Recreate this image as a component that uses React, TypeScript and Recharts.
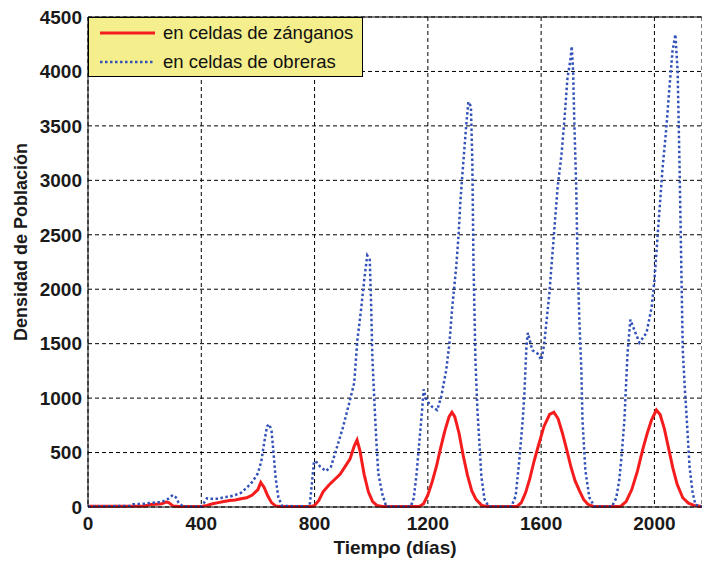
import { LineChart, Line, XAxis, YAxis, CartesianGrid, ReferenceLine, Legend } from 'recharts';

// ── Data ──

const seriesNames = ['en celdas de zánganos', 'en celdas de obreras'];

const xTicks = [0, 400, 800, 1200, 1600, 2000];
const yTicks = [0, 500, 1000, 1500, 2000, 2500, 3000, 3500, 4000, 4500];

// red: drone cells
const droneDays = [
  0, 100, 200, 220, 240, 260, 275, 285, 300, 320, 400, 420, 440, 460, 480, 500, 520, 540, 560, 580, 600, 610,
  622, 635, 648, 662, 680, 790, 800, 815, 830, 850, 870, 890, 910, 925, 940, 950, 960, 975, 990, 1005, 1020,
  1040, 1170, 1185, 1200, 1215, 1230, 1245, 1260, 1275, 1285, 1295, 1310, 1325, 1340, 1355, 1370, 1390, 1410,
  1515, 1530, 1545, 1560, 1575, 1590, 1610, 1630, 1645, 1660, 1675, 1690, 1705, 1720, 1735, 1750, 1765, 1785,
  1880, 1900, 1920, 1940, 1960, 1975, 1990, 2007, 2020, 2035, 2050, 2065, 2080, 2100, 2120, 2140, 2168,
];
const droneValues = [
  8, 8, 10, 22, 26, 30, 45, 40, 10, 5, 5, 15, 30, 40, 50, 60, 65, 75, 85, 110, 160, 225,
  180, 100, 40, 10, 5, 5, 15, 60, 140, 200, 250, 300, 380, 440, 560, 615, 520, 300, 140, 50, 15,
  5, 5, 30, 110, 230, 370, 540, 700, 830, 870, 830, 680, 470, 290, 150, 70, 15, 5,
  5, 40, 130, 260, 420, 560, 740, 850, 870, 810, 680, 530, 370, 240, 150, 70, 25, 5,
  5, 50, 160, 330, 540, 680, 800, 890, 850, 720, 540, 360, 210, 85, 35, 15, 5,
];

// blue: worker cells
const workerDays = [
  0, 150, 160, 200, 230, 260, 280, 300, 310, 320, 335, 400, 410, 420, 440, 460, 480, 500, 520, 540, 560, 580,
  600, 612, 622, 632, 640, 648, 655, 662, 672, 685, 775, 783, 790, 798, 808, 820, 840, 858, 878, 900, 922, 940,
  951, 965, 975, 986, 995, 1000, 1004, 1011, 1018, 1025, 1039, 1053, 1140, 1150, 1160, 1170, 1180, 1185, 1195,
  1215, 1233, 1247, 1265, 1276, 1286, 1300, 1308, 1315, 1322, 1336, 1343, 1352, 1357, 1361, 1368, 1375, 1382,
  1389, 1400, 1415, 1495, 1510, 1523, 1535, 1541, 1548, 1553, 1569, 1587, 1601, 1611, 1629, 1640, 1658, 1672,
  1682, 1693, 1703, 1708, 1713, 1717, 1724, 1728, 1735, 1742, 1746, 1756, 1770, 1788, 1850, 1865, 1876, 1885,
  1894, 1905, 1915, 1930, 1947, 1972, 1990, 2000, 2011, 2028, 2042, 2053, 2064, 2074, 2082, 2089, 2096, 2100,
  2107, 2113, 2124, 2135, 2145, 2168,
];
const workerValues = [
  5, 10, 25, 30, 40, 45, 70, 110, 90, 40, 5, 5, 40, 80, 75, 75, 90, 95, 110, 130, 175, 230,
  310, 420, 590, 740, 760, 700, 500, 280, 90, 10, 5, 20, 200, 420, 410, 370, 330, 370, 540, 730, 950, 1140,
  1530, 1830, 2080, 2310, 2270, 1830, 1380, 980, 610, 310, 120, 5, 5, 80, 300, 600, 900, 1080, 980,
  920, 890, 1010, 1260, 1500, 1830, 2200, 2480, 2810, 3060, 3520, 3720, 3680, 3180, 2260, 1350, 890, 590,
  280, 70, 5, 5, 100, 430, 800, 1050, 1470, 1600, 1440, 1410, 1350, 1500, 1960, 2330, 2930, 3240,
  3550, 3940, 4100, 4230, 4000, 3550, 2930, 2330, 1710, 1260, 800, 340, 90, 5, 5, 80, 250, 500,
  800, 1410, 1720, 1620, 1510, 1600, 1830, 2080, 2480, 3090, 3480, 3850, 4190, 4340, 4000, 3090, 2050, 1450,
  1100, 860, 370, 130, 20, 5,
];

const droneData = droneDays.map((day, i) => ({ day, v: droneValues[i] }));
const workerData = workerDays.map((day, i) => ({ day, v: workerValues[i] }));

const RED = '#f41c1c';
const BLUE = '#3352b8';
const FONT = '"Liberation Sans", Arial, Helvetica, sans-serif';

// ── Legend ──

function LegendBox() {
  return (
    <div
      style={{
        width: 273,
        height: 58,
        border: '1px solid #000',
        background: '#f4ee8c',
        fontFamily: FONT,
        fontSize: 18.5,
        color: '#111',
        boxSizing: 'content-box',
      }}
    >
      {seriesNames.map((name, i) => (
        <div key={name} style={{ display: 'flex', alignItems: 'center', height: 29 }}>
          <svg width={74} height={10} style={{ flexShrink: 0 }}>
            <line
              x1={11}
              x2={66}
              y1={5}
              y2={5}
              stroke={i === 0 ? RED : BLUE}
              strokeWidth={i === 0 ? 3 : 2.5}
              strokeDasharray={i === 0 ? undefined : '2.5 2.5'}
            />
          </svg>
          <span style={{ whiteSpace: 'nowrap' }}>{name}</span>
        </div>
      ))}
    </div>
  );
}

export default function App() {
  return (
    <div style={{ position: 'absolute', left: 0, top: 0, width: 702, height: 561, background: '#fff' }}>
      <LineChart width={702} height={561} margin={{ top: 17, right: 0, bottom: 0, left: 0 }}>
        <CartesianGrid stroke="#000" strokeDasharray="4 3" strokeWidth={1} />
        <XAxis
          type="number"
          dataKey="day"
          domain={[0, 2168]}
          ticks={xTicks}
          allowDataOverflow
          height={54}
          stroke="#000"
          tickLine={false}
          tickSize={6}
          tickMargin={4}
          tick={{ fontSize: 19, fontWeight: 700, fill: '#1a1a1a', fontFamily: FONT }}
          label={({ viewBox }: any) => (
            <text
              x={viewBox.x + viewBox.width / 2}
              y={viewBox.y + 47}
              textAnchor="middle"
              fontSize={19}
              fontWeight={700}
              fill="#1a1a1a"
              fontFamily={FONT}
            >
              Tiempo (días)
            </text>
          )}
        />
        <YAxis
          type="number"
          domain={[0, 4500]}
          ticks={yTicks}
          width={88}
          stroke="#000"
          tickLine={false}
          tickSize={6}
          tickMargin={0}
          tick={{ fontSize: 19, fontWeight: 700, fill: '#1a1a1a', fontFamily: FONT }}
          label={({ viewBox }: any) => (
            <text
              x={27}
              y={viewBox.y + viewBox.height / 2 - 20}
              transform={`rotate(-90, 27, ${viewBox.y + viewBox.height / 2 - 20})`}
              textAnchor="middle"
              fontSize={18}
              fontWeight={700}
              fill="#1a1a1a"
              fontFamily={FONT}
            >
              Densidad de Población
            </text>
          )}
        />
        <ReferenceLine y={4500} stroke="#000" strokeWidth={1} />
        <Line
          data={droneData}
          dataKey="v"
          name={seriesNames[0]}
          type="linear"
          stroke={RED}
          strokeWidth={3}
          dot={false}
          isAnimationActive={false}
        />
        <Line
          data={workerData}
          dataKey="v"
          name={seriesNames[1]}
          type="linear"
          stroke={BLUE}
          strokeWidth={2.5}
          strokeDasharray="2.5 2.5"
          dot={false}
          isAnimationActive={false}
        />
        <Legend
          layout="vertical"
          verticalAlign="middle"
          align="center"
          content={() => <LegendBox />}
          wrapperStyle={{ left: 88, top: 17, width: 275, height: 60 }}
        />
      </LineChart>
    </div>
  );
}
